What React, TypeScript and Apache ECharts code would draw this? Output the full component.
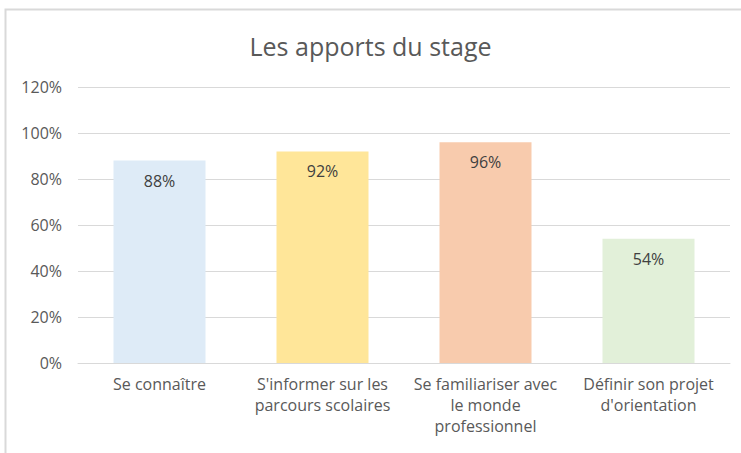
import React, { useEffect, useRef } from "react";
import * as echarts from "echarts";

const categories = [
  "Se connaître",
  "S'informer sur les\nparcours scolaires",
  "Se familiariser avec\nle monde\nprofessionnel",
  "Définir son projet\nd'orientation",
];
const values = [0.88, 0.92, 0.96, 0.54];
const barColors = ["#DEEBF7", "#FFE699", "#F8CBAD", "#E2F0D9"];
const titleText = "Les apports du stage";

const FONT = "'Open Sans', 'Noto Sans', sans-serif";

export default function App() {
  const ref = useRef<HTMLDivElement>(null);
  useEffect(() => {
    if (!ref.current) return;
    const chart = echarts.init(ref.current, null, { renderer: "svg" });
    chart.setOption({
      animation: false,
      backgroundColor: "#ffffff",
      title: {
        text: titleText,
        left: "center",
        top: 28,
        textStyle: { fontFamily: FONT, fontSize: 25, fontWeight: "normal", color: "#595959" },
      },
      graphic: [
        {
          type: "polyline",
          shape: { points: [[5.5, 460], [5.5, 9.5], [745, 9.5]] },
          style: { stroke: "#d9d9d9", lineWidth: 2, fill: "none" },
          silent: true,
        },
      ],
      grid: { left: 78, right: 11, top: 87, bottom: 90, containLabel: false },
      xAxis: {
        type: "category",
        data: categories,
        axisLine: { lineStyle: { color: "#d9d9d9" } },
        axisTick: { show: false },
        axisLabel: {
          interval: 0,
          margin: 10,
          color: "#595959",
          fontFamily: FONT,
          fontSize: 16,
          lineHeight: 21,
        },
      },
      yAxis: {
        type: "value",
        min: 0,
        max: 1.2,
        interval: 0.2,
        axisLine: { show: false },
        axisTick: { show: false },
        splitLine: { lineStyle: { color: "#d9d9d9", width: 1 } },
        axisLabel: {
          margin: 16,
          color: "#595959",
          fontFamily: FONT,
          fontSize: 16,
          formatter: (v: number) => Math.round(v * 100) + "%",
        },
      },
      series: [
        {
          type: "bar",
          data: values.map((v, i) => ({ value: v, itemStyle: { color: barColors[i] } })),
          barWidth: 92,
          label: {
            show: true,
            position: "insideTop",
            distance: 12,
            color: "#404040",
            fontFamily: FONT,
            fontSize: 16,
            formatter: (p: any) => Math.round(p.value * 100) + "%",
          },
        },
      ],
    });
    return () => chart.dispose();
  }, []);
  return (
    <div
      ref={ref}
      style={{ position: "fixed", left: 0, top: 0, width: 741, height: 453 }}
    />
  );
}
